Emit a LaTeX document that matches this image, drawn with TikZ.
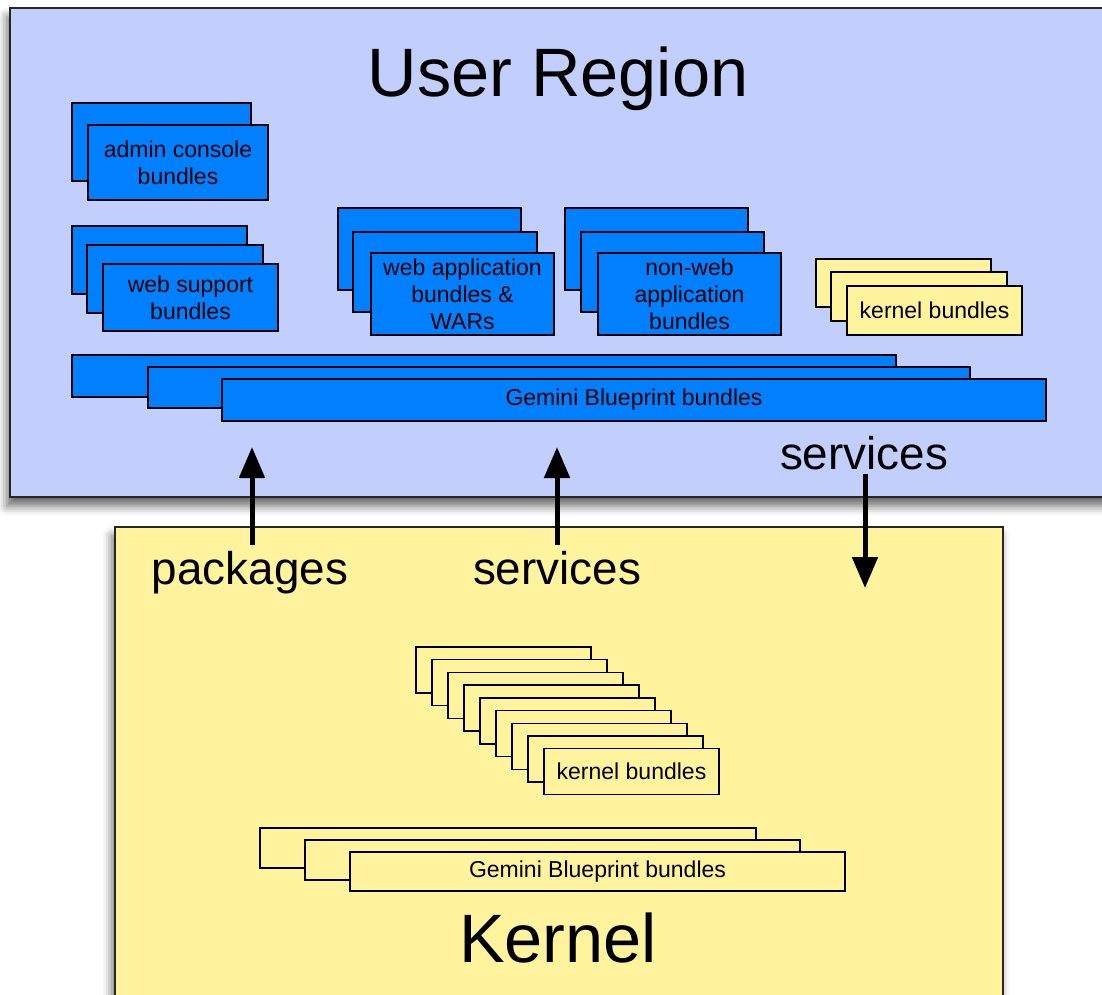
\documentclass[tikz,border=0pt]{standalone}
\usepackage{fontspec}
\setmainfont{Liberation Sans}
\usetikzlibrary{arrows.meta,shadows.blur}
\definecolor{userbg}{RGB}{194,206,252}
\definecolor{bbox}{RGB}{0,128,255}
\definecolor{kbg}{RGB}{255,243,158}
\tikzset{
  box/.style={draw=black, line width=1.4pt, inner sep=0pt, outer sep=0pt, anchor=north west, align=center, font=\fontsize{23}{27}\selectfont},
  bluebox/.style={box, fill=bbox},
  ybox/.style={box, fill=kbg},
  region/.style={draw=black!85, line width=1.8pt, anchor=north west, inner sep=0pt, outer sep=0pt,
    blur shadow={shadow xshift=-3pt, shadow yshift=-9pt, shadow blur radius=9pt, shadow opacity=60}},
  arr/.style={line width=5pt, -{Triangle[width=25pt,length=31pt]}},
  big/.style={font=\fontsize{68.5}{80}\selectfont, anchor=base, inner sep=0pt},
  lbl/.style={font=\fontsize{45.8}{50}\selectfont, anchor=base, inner sep=0pt},
}
\newcommand\rbox[7]{\node[#1, minimum width={#5pt-#3pt}, minimum height={#6pt-#4pt}] (#2) at (#3,#4) {#7};}
\begin{document}
\begin{tikzpicture}[x=1pt,y=-1pt]
\useasboundingbox (0,0) rectangle (1102,994);
% regions
\rbox{region, fill=userbg}{user}{10}{8}{1112}{497}{}
\rbox{region, fill=kbg}{kernel}{115}{527}{1003}{1010}{}
\node[big] (utitle) at (558,96) {User Region};
\node[big] (ktitle) at (558,962) {Kernel};
% admin console
\rbox{bluebox}{ac1}{72}{103}{251}{181}{}
\rbox{bluebox}{ac2}{88}{125}{268}{200}{admin console\\bundles}
% web support
\rbox{bluebox}{ws1}{72}{226}{247}{294}{}
\rbox{bluebox}{ws2}{87}{245}{263}{313}{}
\rbox{bluebox}{ws3}{103}{264}{278}{331}{web support\\bundles}
% web application
\rbox{bluebox}{wa1}{338}{208}{521}{290}{}
\rbox{bluebox}{wa2}{353}{232}{537}{312}{}
\rbox{bluebox}{wa3}{371}{253}{554}{335}{web application\\bundles \&\\WARs}
% non-web
\rbox{bluebox}{nw1}{565}{208}{748}{290}{}
\rbox{bluebox}{nw2}{581}{232}{764}{312}{}
\rbox{bluebox}{nw3}{598}{253}{781}{335}{non-web\\application\\bundles}
% kernel bundles (user)
\rbox{ybox}{uk1}{816}{259}{991}{307}{}
\rbox{ybox}{uk2}{831}{272}{1007}{321}{}
\rbox{ybox}{uk3}{847}{286}{1022}{335}{kernel bundles}
% gemini (user)
\rbox{bluebox}{ug1}{72}{355}{896}{397}{}
\rbox{bluebox}{ug2}{148}{367}{970}{408}{}
\rbox{bluebox}{ug3}{222}{379}{1046}{421}{Gemini Blueprint bundles}
% kernel bundles (kernel)
\foreach \i in {0,...,7}{
  \node[ybox, minimum width=175pt, minimum height=46pt] (kb\i) at ({416+\i*16},{647+\i*12.7}) {};
}
\node[ybox, minimum width=175pt, minimum height=46pt] (kb8) at (544,748.6) {kernel bundles};
% gemini (kernel)
\rbox{ybox}{kg1}{260}{828}{756}{868}{}
\rbox{ybox}{kg2}{305}{840}{800}{880}{}
\rbox{ybox}{kg3}{350}{852}{845}{891}{Gemini Blueprint bundles}
% arrows
\coordinate (pk0) at (252,545); \coordinate (pk1) at (252,447);
\coordinate (sv0) at (557,545); \coordinate (sv1) at (557,447);
\coordinate (su0) at (865,474); \coordinate (su1) at (865,588);
\draw[arr] (pk0) -- (pk1);
\draw[arr] (sv0) -- (sv1);
\draw[arr] (su0) -- (su1);
\node[lbl] (lpk) at (250,584) {packages};
\node[lbl] (lsv) at (557,584) {services};
\node[lbl] (lsu) at (864,469) {services};
\end{tikzpicture}
\end{document}
